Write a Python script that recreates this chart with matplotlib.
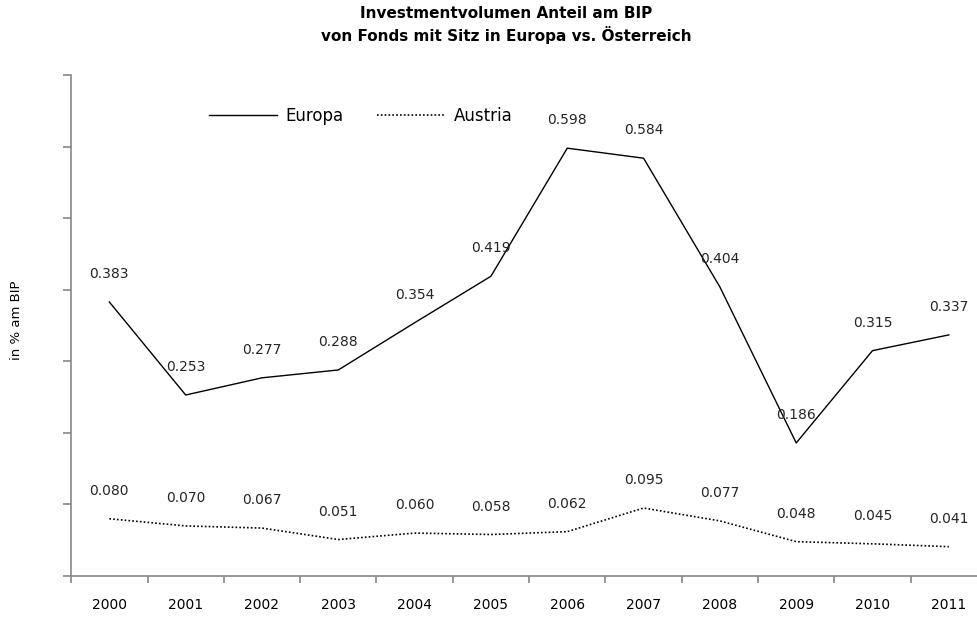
import matplotlib.pyplot as plt
import numpy as np

# Daten
years = ['2000', '2001', '2002', '2003', '2004', '2005',
         '2006', '2007', '2008', '2009', '2010', '2011']
europa = [0.383, 0.253, 0.277, 0.288, 0.354, 0.419,
          0.598, 0.584, 0.404, 0.186, 0.315, 0.337]
austria = [0.080, 0.070, 0.067, 0.051, 0.060, 0.058,
           0.062, 0.095, 0.077, 0.048, 0.045, 0.041]

plt.rcParams['font.family'] = ['DejaVu Sans']
grey = '#868686'

fig = plt.figure(figsize=(9.77, 6.19), dpi=100)
ax = fig.add_axes([71.2/977, 43/619, (987-71.2)/977, (576-75.2)/619])

x = np.arange(len(years))
ax.plot(x, europa, color='black', lw=1.0, label='Europa')
ax.plot(x, austria, color='black', lw=1.2, linestyle=(0, (1, 1.3)), label='Austria')

# Datenbeschriftungen
for xi, v in zip(x, europa):
    ax.annotate(f'{v:.3f}', (xi, v), xytext=(0, 20), textcoords='offset points',
                ha='center', va='center', fontsize=10, color='#262626')
for xi, v in zip(x, austria):
    ax.annotate(f'{v:.3f}', (xi, v), xytext=(0, 20), textcoords='offset points',
                ha='center', va='center', fontsize=10, color='#262626')

ax.set_xlim(-0.5, len(years) - 0.5)
ax.set_ylim(0, 0.7)

# Achsen
for s in ['top', 'right']:
    ax.spines[s].set_visible(False)
for s in ['left', 'bottom']:
    ax.spines[s].set_color(grey)
    ax.spines[s].set_linewidth(1.2)

ax.set_xticks(x)
ax.set_xticklabels(years, fontsize=10)
ax.set_xticks(np.arange(-0.5, len(years)), minor=True)
ax.tick_params(axis='x', which='major', length=0, pad=16)
ax.tick_params(axis='x', which='minor', length=5, width=1.2, color=grey, direction='out')

ax.set_yticks(np.arange(0, 0.71, 0.1))
ax.set_yticklabels([])
ax.tick_params(axis='y', length=6, width=1.2, color=grey, direction='out')

fig.text(17/977, 1 - 320/619, 'in % am BIP', rotation=90, ha='center', va='center', fontsize=9.5)

fig.text(506/977, 1 - 25/619, 'Investmentvolumen Anteil am BIP\nvon Fonds mit Sitz in Europa vs. Österreich',
         ha='center', va='center', fontsize=11, fontweight='bold', linespacing=1.3)

fig.legend(loc='center left', bbox_to_anchor=(209/977, 1 - 116/619), ncol=2,
           frameon=False, fontsize=12, handlelength=4.1, columnspacing=2.0,
           handletextpad=0.5, borderpad=0, borderaxespad=0)

fig.savefig('out.png', dpi=100)
